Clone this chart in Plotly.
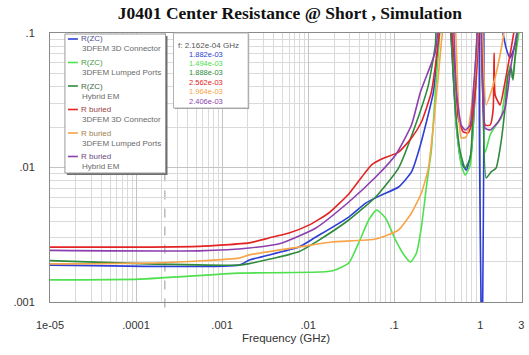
import plotly.graph_objects as go

# ---------------- data (frequency in GHz, resistance) ----------------
blue_f = [1e-5, 1.58e-3, 2.07e-3, 7.8e-3, 0.0123, 0.0297, 0.0467, 0.0715, 0.1125, 0.159, 0.202, 0.286, 0.327,
          0.344, 0.394, 0.45, 0.527, 0.602, 0.689, 0.787, 0.875, 0.948, 1.0, 1.049, 1.05, 1.051, 1.75, 2.0,
          2.22, 2.48, 2.82, 3.06]
blue_v = [0.00188, 0.00188, 0.00205, 0.00256, 0.00304, 0.00428, 0.00544, 0.00625, 0.00716, 0.00927, 0.0147,
          0.0364, 0.0857, 0.115, 0.3, 0.115, 0.0207, 0.011, 0.00957, 0.013, 0.0364, 0.115, 0.3, 0.3, 0.0003,
          0.3, 0.115, 0.0773, 0.0652, 0.0773, 0.115, 0.3]

lgreen_f = [1e-5, 1.1e-4, 1.58e-3, 0.0188, 0.0297, 0.0387, 0.0506, 0.0625, 0.0794, 0.1038, 0.1355, 0.155,
            0.1815, 0.2075, 0.237, 0.271, 0.301, 0.327, 0.344, 0.394, 0.461, 0.527, 0.602, 0.67, 0.766, 0.83,
            0.899, 0.923, 1.0, 1.143, 1.306, 1.53, 1.75, 1.946, 2.22, 2.345, 2.61, 2.9, 3.06]
lgreen_v = [0.00146, 0.00148, 0.00164, 0.0017, 0.00195, 0.00275, 0.00407, 0.00483, 0.00422, 0.00289, 0.00216,
            0.00198, 0.00231, 0.00361, 0.00716, 0.0135, 0.0364, 0.0723, 0.115, 0.3, 0.115, 0.0207, 0.01045,
            0.00879, 0.01045, 0.0207, 0.0652, 0.115, 0.3, 0.013, 0.01746, 0.0207, 0.0233, 0.0364, 0.0578,
            0.0463, 0.0723, 0.115, 0.3]

dgreen_f = [1e-5, 1.1e-4, 1.58e-3, 2.07e-3, 7.8e-3, 0.0123, 0.0297, 0.061, 0.1125, 0.177, 0.25, 0.301, 0.31,
            0.373, 0.45, 0.514, 0.587, 0.67, 0.766, 0.83, 0.899, 0.948, 1.014, 1.172, 1.34, 1.53, 1.75, 1.946,
            2.11, 2.285, 2.41, 2.54, 2.755, 3.06]
dgreen_v = [0.00203, 0.00193, 0.00188, 0.00193, 0.00236, 0.00279, 0.00407, 0.00604, 0.0099, 0.0207, 0.041,
            0.0814, 0.115, 0.3, 0.115, 0.0277, 0.013, 0.0099, 0.01177, 0.0277, 0.0723, 0.115, 0.3, 0.00835,
            0.00927, 0.0099, 0.0155, 0.0277, 0.0488, 0.055, 0.0448, 0.0652, 0.115, 0.3]

red_f = [1e-5, 1.43e-4, 5.4e-4, 2.07e-3, 3.5e-3, 6.0e-3, 0.0102, 0.0174, 0.0297, 0.042, 0.0547, 0.0715, 0.1125,
         0.159, 0.2075, 0.271, 0.31, 0.344, 0.394, 0.461, 0.514, 0.556, 0.636, 0.726, 0.787, 0.875, 0.948, 1.03,
         1.143, 1.306, 1.414, 1.452, 1.492, 1.703, 1.946, 2.22, 2.54, 3.06]
red_v = [0.00256, 0.00256, 0.00259, 0.00275, 0.00299, 0.00326, 0.00373, 0.00459, 0.00636, 0.00849, 0.01045,
         0.01156, 0.0130, 0.01656, 0.0218, 0.0364, 0.0652, 0.115, 0.3, 0.115, 0.0488, 0.0233, 0.0184, 0.0181,
         0.0207, 0.0364, 0.0814, 0.3, 0.0207, 0.0207, 0.0268, 0.071, 0.0346, 0.0292, 0.0433, 0.0686, 0.115, 0.3]

orange_f = [1e-5, 1.875e-4, 1.58e-3, 2.07e-3, 7.8e-3, 0.0188, 0.061, 0.1125, 0.159, 0.2075, 0.25, 0.286, 0.327,
            0.354, 0.373, 0.438, 0.514, 0.556, 0.602, 0.689, 0.83, 0.923, 1.0, 1.172, 1.34, 1.614, 1.845, 1.946,
            2.22, 3.06]
orange_v = [0.00192, 0.00196, 0.00212, 0.00224, 0.00256, 0.00279, 0.00294, 0.00343, 0.00459, 0.00646, 0.0099,
            0.0207, 0.0488, 0.0857, 0.115, 0.3, 0.115, 0.0318, 0.0166, 0.0169, 0.0364, 0.0814, 0.3, 0.0292,
            0.0364, 0.0578, 0.0918, 0.115, 0.3, 0.3]

purple_f = [1e-5, 5.4e-4, 2.07e-3, 4.98e-3, 0.0123, 0.0297, 0.061, 0.1038, 0.159, 0.202, 0.301, 0.327, 0.383,
            0.487, 0.527, 0.602, 0.67, 0.766, 0.83, 0.899, 1.0, 1.143, 1.306, 1.614, 1.946, 2.285, 2.755, 3.06]
purple_v = [0.00242, 0.00240, 0.00252, 0.00275, 0.00355, 0.00554, 0.00849, 0.0124, 0.0207, 0.0364, 0.0723,
            0.115, 0.3, 0.115, 0.0377, 0.0207, 0.019, 0.0207, 0.0364, 0.0723, 0.3, 0.0196, 0.019, 0.0218,
            0.0277, 0.0578, 0.115, 0.3]

name_line1 = ["R(ZC)", "R(ZC)", "R(ZC)", "R buried", "R buried", "R buried"]
name_line2 = ["3DFEM 3D Connector", "3DFEM Lumped Ports", "Hybrid EM",
              "3DFEM 3D Connector", "3DFEM Lumped Ports", "Hybrid EM"]
marker_freq = 2.162e-4
marker_text = "f: 2.162e-04 GHz"
marker_vals = ["1.882e-03", "1.494e-03", "1.888e-03", "2.562e-03", "1.964e-03", "2.406e-03"]

x_tickvals = [1e-5, 1e-4, 1e-3, 1e-2, 1e-1, 1, 3]
x_ticktext = ["1e-05", ".0001", ".001", ".01", ".1", "1", "3"]
y_tickvals = [0.001, 0.01, 0.1]
y_ticktext = [".001", ".01", ".1"]

title_text = "J0401 Center Resistance @ Short , Simulation"
x_title = "Frequency (GHz)"

colors = ["#2e3fd6", "#4fe04f", "#2f8a3c", "#e32424", "#f8a448", "#8c3fae"]
text1_colors = ["#4a4f8a", "#4a9a4a", "#3f6a45", "#9a3f3f", "#a0804f", "#6a4a80"]

series_f = [blue_f, lgreen_f, dgreen_f, red_f, orange_f, purple_f]
series_v = [blue_v, lgreen_v, dgreen_v, red_v, orange_v, purple_v]

# ---------------- figure ----------------
W, H = 529, 355
L, R, T, B = 50, 5, 33, 53
PW, PH = W - L - R, H - T - B


def px(xp):
    return (xp - L) / PW


def py(yp):
    return (H - B - yp) / PH


fig = go.Figure()
for i in range(6):
    fig.add_trace(go.Scatter(x=series_f[i], y=series_v[i], mode="lines",
                             line=dict(color=colors[i], width=1.6, shape="spline", smoothing=0.5),
                             name=name_line1[i] + " " + name_line2[i], showlegend=False))

shapes = []
annotations = []

# marker dashed line
shapes.append(dict(type="line", xref="x", yref="paper", x0=marker_freq, x1=marker_freq, y0=-0.02, y1=1,
                   line=dict(color="#a8a8a8", width=1.2, dash="dash"), layer="below"))

# legend box
lx0, lx1, ly0, ly1 = 65, 166, 34, 173
shapes.append(dict(type="rect", xref="paper", yref="paper", x0=px(lx0 + 2), x1=px(lx1 + 2), y0=py(ly1 + 2),
                   y1=py(ly0 + 2), fillcolor="#707070", line=dict(width=0)))
shapes.append(dict(type="rect", xref="paper", yref="paper", x0=px(lx0), x1=px(lx1), y0=py(ly1), y1=py(ly0),
                   fillcolor="white", line=dict(color="#9a9a9a", width=1)))
for i in range(6):
    yl = 39 + 23.5 * i
    shapes.append(dict(type="line", xref="paper", yref="paper", x0=px(68), x1=px(78), y0=py(yl), y1=py(yl),
                       line=dict(color=colors[i], width=1.6)))
    annotations.append(dict(xref="paper", yref="paper", x=px(79), y=py(yl), text=name_line1[i],
                            showarrow=False, xanchor="left", yanchor="middle",
                            font=dict(family="Liberation Sans, Arial", size=8, color=text1_colors[i])))
    annotations.append(dict(xref="paper", yref="paper", x=px(80), y=py(yl + 10), text=name_line2[i],
                            showarrow=False, xanchor="left", yanchor="middle",
                            font=dict(family="Liberation Sans, Arial", size=8, color="#6a6a6a")))

# marker readout box
mx0, mx1, my0, my1 = 174, 249, 33, 108
shapes.append(dict(type="rect", xref="paper", yref="paper", x0=px(mx0 + 1), x1=px(mx1 + 1), y0=py(my1 + 1),
                   y1=py(my0 + 1), fillcolor="#9a9a9a", line=dict(width=0)))
shapes.append(dict(type="rect", xref="paper", yref="paper", x0=px(mx0), x1=px(mx1), y0=py(my1), y1=py(my0),
                   fillcolor="white", line=dict(color="#b0b0b0", width=1)))
annotations.append(dict(xref="paper", yref="paper", x=px(177), y=py(45), text=marker_text, showarrow=False,
                        xanchor="left", yanchor="middle",
                        font=dict(family="Liberation Sans, Arial", size=8, color="#555")))
for i in range(6):
    annotations.append(dict(xref="paper", yref="paper", x=px(207), y=py(54 + 9.4 * i), text=marker_vals[i],
                            showarrow=False, xanchor="center", yanchor="middle",
                            font=dict(family="Liberation Sans, Arial", size=7.5, color=colors[i])))

fig.update_layout(
    width=W, height=H,
    margin=dict(l=L, r=R, t=T, b=B),
    paper_bgcolor="white", plot_bgcolor="white",
    title=dict(text="<b>" + title_text + "</b>", x=0.548, xref="container", xanchor="center",
               y=1 - 13 / H, yref="container", yanchor="middle",
               font=dict(family="Liberation Serif, Times New Roman", size=17.5, color="#111")),
    shapes=shapes, annotations=annotations,
    showlegend=False,
)
fig.update_xaxes(type="log", range=[-5, 0.486], tickvals=x_tickvals, ticktext=x_ticktext,
                 ticks="outside", ticklen=13, tickcolor="rgba(0,0,0,0)",
                 tickfont=dict(family="Liberation Sans, Arial", size=11, color="#333"),
                 showgrid=True, gridcolor="#c4c4c4", gridwidth=1,
                 minor=dict(dtick="D1", showgrid=True, gridcolor="#dadada", ticks=""),
                 showline=True, linecolor="#8a8a8a", linewidth=1, mirror=True, zeroline=False,
                 title=dict(text=x_title, standoff=3,
                            font=dict(family="Liberation Sans, Arial", size=11.5, color="#333")))
fig.update_yaxes(type="log", range=[-3, -1], tickvals=y_tickvals, ticktext=y_ticktext,
                 ticks="outside", ticklen=12, tickcolor="rgba(0,0,0,0)",
                 tickfont=dict(family="Liberation Sans, Arial", size=11, color="#333"),
                 showgrid=True, gridcolor="#c4c4c4", gridwidth=1,
                 minor=dict(dtick="D1", showgrid=True, gridcolor="#dadada", ticks=""),
                 showline=True, linecolor="#8a8a8a", linewidth=1, mirror=True, zeroline=False)

fig.write_html("out.html")
